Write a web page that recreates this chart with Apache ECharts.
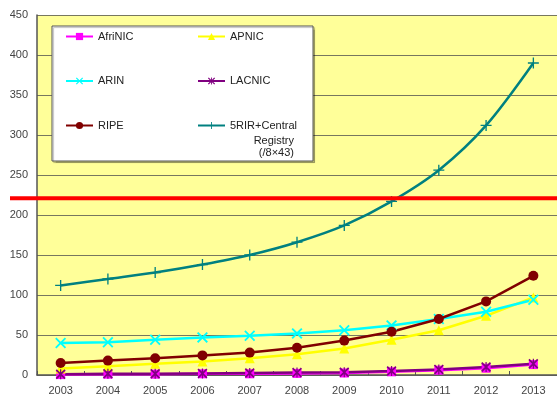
<!DOCTYPE html>
<html>
<head>
<meta charset="utf-8">
<script src="https://cdn.jsdelivr.net/npm/echarts@6/dist/echarts.min.js"></script>
<style>
  html, body { margin: 0; padding: 0; background: #fff; }
  #chart { width: 557px; height: 397px; }
</style>
</head>
<body>
<div id="chart"></div>
<script>
// values
const years = ['2003', '2004', '2005', '2006', '2007', '2008', '2009', '2010', '2011', '2012', '2013']
const afrinic = [0.5, 1, 1, 1.5, 1.5, 2, 2.5, 4, 6, 8.5, 13]
const apnic = [8, 11, 14, 17, 21, 26, 33, 44, 56, 74, 97]
const arin = [40, 41, 44, 47, 49, 52, 56, 62, 70, 79, 94]
const lacnic = [1, 1.5, 1.5, 2, 2.5, 3, 3.5, 5, 7, 10, 14]
const ripe = [15, 18, 21, 24.5, 28, 34, 43, 54, 70, 92, 124]
const rir43 = [112, 120, 128, 138, 150, 166, 187, 217, 256, 312, 390]
const threshold = 221
const yMin = 0
const yMax = 450
const yStep = 50

const font = '"Liberation Sans", Arial, sans-serif'
const X_PATH = 'path://M0,1.2L1.2,0L5,3.8L8.8,0L10,1.2L6.2,5L10,8.8L8.8,10L5,6.2L1.2,10L0,8.8L3.8,5Z'
const STAR_PATH = X_PATH + 'M4.4,0L5.6,0L5.6,10L4.4,10Z'
const PLUS_PATH = 'path://M4.4,0L5.6,0L5.6,4.4L10,4.4L10,5.6L5.6,5.6L5.6,10L4.4,10L4.4,5.6L0,5.6L0,4.4L4.4,4.4Z'

function line(name, values, color, symbol, size, extra) {
  return Object.assign({
    name,
    type: 'line',
    data: values,
    symbol,
    symbolSize: size,
    lineStyle: { color, width: 2.5 },
    itemStyle: { color },
    emphasis: { disabled: true },
  }, extra || {})
}

const legendText = { fontFamily: font, fontSize: 11, color: '#222' }

const chart = echarts.init(document.getElementById('chart'), null, { renderer: 'canvas' })

chart.setOption({
  backgroundColor: '#fff',
  animation: false,
  grid: {
    left: 37,
    top: 15,
    width: 524,
    bottom: 22,
    show: true,
    backgroundColor: '#FFFF99',
    borderWidth: 0,
  },
  legend: [
    {
      data: ['AfriNIC', 'ARIN', 'RIPE'],
      orient: 'vertical',
      left: 65,
      top: 31,
      padding: 0,
      itemGap: 33.5,
      itemWidth: 27,
      itemHeight: 9,
      textStyle: legendText,
      selectedMode: false,
    },
    {
      data: ['APNIC', 'LACNIC', '5RIR+Central'],
      orient: 'vertical',
      left: 197,
      top: 31,
      padding: 0,
      itemGap: 33.5,
      itemWidth: 27,
      itemHeight: 9,
      textStyle: legendText,
      selectedMode: false,
    },
  ],
  xAxis: {
    type: 'category',
    data: years,
    boundaryGap: true,
    axisLine: { lineStyle: { color: '#555', width: 1.5 } },
    axisTick: { show: true, inside: true, length: 4, lineStyle: { color: '#555' } },
    axisLabel: { fontFamily: font, fontSize: 11, color: '#444', margin: 10 },
  },
  yAxis: {
    type: 'value',
    min: yMin,
    max: yMax,
    interval: yStep,
    axisLine: { show: true, lineStyle: { color: '#555', width: 1.5 } },
    axisTick: { show: false },
    axisLabel: { fontFamily: font, fontSize: 11, color: '#444', margin: 9 },
    splitLine: { lineStyle: { color: '#77775f', width: 1.2 } },
  },
  series: [
    line('AfriNIC', afrinic, '#FF00FF', 'rect', 9),
    line('APNIC', apnic, '#FFFF00', 'triangle', 10),
    line('ARIN', arin, '#00FFFF', X_PATH, 11),
    line('LACNIC', lacnic, '#800080', STAR_PATH, 10),
    line('RIPE', ripe, '#800000', 'circle', 10),
    line('5RIR+Central', rir43, '#008080', PLUS_PATH, 11, { smooth: 0.3 }),
  ],
})

// legend frame, the wrapped part of the last legend label, and the threshold line
const redY = chart.convertToPixel({ yAxisIndex: 0 }, threshold)
chart.setOption({
  graphic: [
    {
      type: 'rect',
      z: 3,
      shape: { x: 52, y: 26, width: 261, height: 135 },
      style: {
        fill: '#fff',
        stroke: '#555',
        lineWidth: 1,
        shadowBlur: 1,
        shadowOffsetX: 1.5,
        shadowOffsetY: 1.5,
        shadowColor: 'rgba(0,0,0,0.25)',
      },
    },
    {
      type: 'text',
      z: 5,
      style: {
        x: 294,
        y: 135,
        text: 'Registry\n(/8×43)',
        align: 'right',
        fontFamily: font,
        fontSize: 11,
        lineHeight: 12,
        fill: '#222',
      },
    },
    {
      type: 'line',
      z: 100,
      shape: { x1: 10, y1: redY, x2: 557, y2: redY },
      style: { stroke: '#FF0000', lineWidth: 4 },
    },
  ],
})
</script>
</body>
</html>
